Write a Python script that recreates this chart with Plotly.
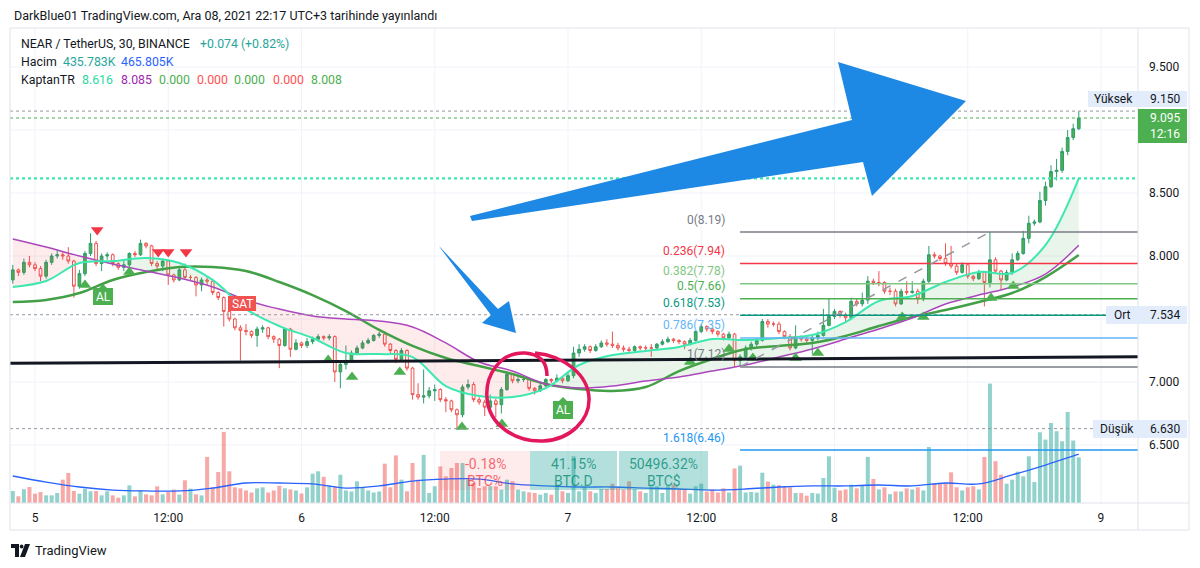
import plotly.graph_objects as go
from datetime import datetime, timedelta

# ---------------- data ----------------
T0 = datetime(2021, 12, 5)      # day "5" 00:00, 30-minute candles
K_FIRST = -4                     # first visible candle index
FIRST_OPEN = 7.81

close = [7.89, 7.87, 7.95, 7.93, 7.90, 7.84, 7.95, 8.00, 8.01, 8.00,
         7.96, 7.76, 7.86, 8.02, 8.10, 7.94, 8.00, 8.01, 7.94, 7.91,
         7.93, 8.02, 8.01, 8.10, 8.08, 7.94, 7.92, 7.96, 7.85, 7.81,
         7.89, 7.83, 7.83, 7.77, 7.81, 7.80, 7.71, 7.67, 7.56, 7.50,
         7.43, 7.41, 7.40, 7.37, 7.42, 7.43, 7.36, 7.34, 7.29, 7.42,
         7.26, 7.31, 7.29, 7.32, 7.34, 7.36, 7.35, 7.36, 7.08, 7.14,
         7.17, 7.23, 7.27, 7.31, 7.33, 7.37, 7.38, 7.30, 7.25, 7.18,
         7.25, 7.11, 6.90, 6.88, 6.89, 6.93, 6.94, 6.86, 6.85, 6.78,
         6.74, 6.96, 6.98, 6.86, 6.84, 6.80, 6.85, 6.82, 6.94, 7.06,
         7.01, 7.02, 7.02, 6.95, 6.93, 6.97, 7.02, 7.01, 7.03, 7.01,
         7.05, 7.23, 7.26, 7.28, 7.25, 7.28, 7.31, 7.30, 7.29, 7.27,
         7.26, 7.25, 7.28, 7.27, 7.27, 7.27, 7.30, 7.32, 7.34, 7.33,
         7.32, 7.30, 7.33, 7.40, 7.44, 7.42, 7.40, 7.38, 7.35, 7.38,
         7.17, 7.20, 7.27, 7.30, 7.33, 7.48, 7.46, 7.46, 7.40, 7.36,
         7.27, 7.36, 7.34, 7.33, 7.35, 7.37, 7.45, 7.52, 7.56, 7.53,
         7.51, 7.64, 7.62, 7.65, 7.80, 7.79, 7.79, 7.72, 7.72, 7.62,
         7.72, 7.71, 7.72, 7.66, 7.80, 8.01, 8.00, 7.98, 7.94, 7.92,
         7.87, 7.93, 7.84, 7.82, 7.87, 7.79, 7.97, 7.88, 7.81, 7.87,
         7.97, 8.02, 8.14, 8.26, 8.27, 8.44, 8.55, 8.67, 8.68, 8.83,
         8.94, 9.01, 9.095]

high = [7.93, 7.90, 7.98, 8.00, 7.95, 7.92, 7.97, 8.02, 8.05, 8.03,
        8.07, 7.97, 7.89, 8.04, 8.18, 8.12, 8.02, 8.03, 8.02, 7.95,
        7.96, 8.03, 8.04, 8.13, 8.11, 8.09, 7.96, 7.98, 7.97, 7.86,
        7.91, 7.94, 7.85, 7.84, 7.83, 7.83, 7.81, 7.72, 7.68, 7.57,
        7.51, 7.45, 7.46, 7.41, 7.44, 7.45, 7.44, 7.37, 7.35, 7.43,
        7.43, 7.34, 7.32, 7.35, 7.36, 7.38, 7.37, 7.38, 7.37, 7.16,
        7.29, 7.25, 7.29, 7.33, 7.35, 7.38, 7.40, 7.40, 7.31, 7.26,
        7.27, 7.26, 7.12, 6.99, 7.10, 6.96, 6.98, 6.95, 6.88, 6.86,
        6.79, 6.98, 7.02, 7.00, 6.88, 6.86, 6.90, 6.87, 6.96, 7.08,
        7.07, 7.04, 7.05, 7.03, 6.96, 6.99, 7.03, 7.03, 7.06, 7.04,
        7.07, 7.28, 7.30, 7.30, 7.29, 7.30, 7.33, 7.34, 7.40, 7.31,
        7.29, 7.28, 7.29, 7.29, 7.29, 7.30, 7.31, 7.34, 7.36, 7.35,
        7.34, 7.33, 7.35, 7.41, 7.46, 7.45, 7.43, 7.41, 7.39, 7.40,
        7.39, 7.22, 7.29, 7.32, 7.35, 7.50, 7.50, 7.48, 7.48, 7.41,
        7.38, 7.45, 7.37, 7.36, 7.37, 7.40, 7.58, 7.66, 7.58, 7.57,
        7.55, 7.67, 7.66, 7.71, 7.84, 7.82, 7.88, 7.80, 7.75, 7.74,
        7.74, 7.80, 7.80, 7.74, 7.82, 8.08, 8.03, 8.01, 8.10, 8.08,
        7.94, 7.95, 7.94, 7.85, 7.89, 7.88, 8.19, 7.99, 7.89, 7.89,
        8.02, 8.04, 8.20, 8.32, 8.29, 8.51, 8.59, 8.72, 8.77, 8.86,
        9.00, 9.05, 9.15]

low = [7.78, 7.84, 7.85, 7.91, 7.88, 7.80, 7.82, 7.93, 7.98, 7.97,
       7.94, 7.67, 7.74, 7.84, 8.00, 7.92, 7.88, 7.97, 7.92, 7.89,
       7.88, 7.91, 7.99, 8.00, 8.06, 7.92, 7.89, 7.88, 7.77, 7.79,
       7.80, 7.81, 7.81, 7.68, 7.72, 7.77, 7.69, 7.65, 7.44, 7.48,
       7.41, 7.17, 7.37, 7.35, 7.28, 7.39, 7.34, 7.31, 7.11, 7.28,
       7.20, 7.25, 7.27, 7.27, 7.30, 7.33, 7.33, 7.33, 7.00, 6.95,
       7.10, 7.16, 7.22, 7.26, 7.30, 7.32, 7.35, 7.28, 7.23, 7.15,
       7.16, 7.09, 6.86, 6.86, 6.83, 6.87, 6.85, 6.84, 6.76, 6.76,
       6.63, 6.72, 6.94, 6.84, 6.82, 6.73, 6.78, 6.72, 6.75, 6.93,
       6.99, 6.99, 7.00, 6.93, 6.90, 6.92, 6.96, 6.99, 7.00, 6.99,
       7.00, 7.03, 7.20, 7.24, 7.23, 7.24, 7.27, 7.28, 7.27, 7.25,
       7.24, 7.23, 7.24, 7.25, 7.25, 7.20, 7.26, 7.29, 7.31, 7.31,
       7.30, 7.26, 7.29, 7.32, 7.39, 7.40, 7.38, 7.36, 7.33, 7.34,
       7.12, 7.12, 7.18, 7.25, 7.28, 7.32, 7.43, 7.44, 7.38, 7.34,
       7.25, 7.26, 7.32, 7.31, 7.22, 7.33, 7.36, 7.44, 7.50, 7.51,
       7.48, 7.50, 7.60, 7.60, 7.62, 7.77, 7.76, 7.70, 7.69, 7.60,
       7.61, 7.69, 7.70, 7.62, 7.64, 7.78, 7.98, 7.96, 7.92, 7.90,
       7.85, 7.86, 7.82, 7.80, 7.81, 7.60, 7.75, 7.86, 7.73, 7.80,
       7.85, 7.96, 8.01, 8.10, 8.24, 8.26, 8.40, 8.54, 8.60, 8.66,
       8.80, 8.92, 9.00]

volume_k = [115, 64, 131, 153, 89, 105, 73, 73, 96, 223,
            287, 115, 89, 137, 112, 115, 73, 112, 73, 51,
            73, 169, 64, 121, 83, 73, 159, 83, 105, 128,
            80, 217, 137, 83, 73, 440, 153, 296, 680, 303,
            150, 140, 120, 100, 140, 150, 100, 120, 165, 140,
            130, 120, 90, 150, 280, 303, 250, 170, 160, 270,
            120, 110, 207, 150, 120, 100, 110, 376, 150, 455,
            223, 112, 382, 223, 460, 96, 160, 350, 255, 335,
            382, 382, 223, 191, 143, 160, 160, 160, 128, 223,
            207, 128, 112, 102, 96, 80, 96, 80, 160, 112,
            96, 446, 112, 160, 112, 96, 134, 134, 185, 143,
            128, 207, 134, 112, 96, 160, 160, 96, 160, 175,
            128, 128, 90, 160, 185, 110, 130, 100, 140, 100,
            330, 357, 100, 105, 100, 290, 205, 175, 170, 160,
            150, 95, 95, 70, 95, 90, 240, 446, 146, 120,
            130, 175, 140, 170, 440, 230, 130, 150, 85, 110,
            110, 140, 130, 150, 120, 535, 190, 190, 190, 293,
            150, 120, 150, 160, 130, 440, 1141, 400, 270, 185,
            223, 300, 255, 446, 200, 676, 606, 765, 686, 590,
            870, 597, 436]

# indicator lines, read every 6 candles starting at the first candle
LINE_STEP = 6
cyan_line = [7.754, 7.802, 7.944, 7.960, 7.984, 7.944, 7.810, 7.579, 7.444, 7.349,
             7.230, 7.222, 7.198, 6.968, 6.889, 6.881, 6.952, 7.135, 7.214, 7.246,
             7.278, 7.341, 7.333, 7.349, 7.373, 7.476, 7.643, 7.683, 7.794, 7.873,
             7.865, 8.087, 8.616]
purple_line = [8.135, 8.071, 8.000, 7.937, 7.881, 7.825, 7.754, 7.651, 7.579, 7.524,
               7.500, 7.484, 7.437, 7.310, 7.159, 7.087, 6.984, 6.952, 6.968, 7.008,
               7.040, 7.087, 7.135, 7.198, 7.262, 7.341, 7.421, 7.508, 7.619, 7.690,
               7.754, 7.857, 8.085]
green_line = [7.635, 7.651, 7.706, 7.810, 7.873, 7.913, 7.913, 7.881, 7.794, 7.690,
              7.563, 7.413, 7.286, 7.190, 7.127, 7.063, 6.984, 6.944, 6.929, 6.960,
              7.087, 7.183, 7.262, 7.286, 7.310, 7.365, 7.444, 7.516, 7.571, 7.635,
              7.706, 7.833, 8.008]
vol_ma_k = [258, 200, 153, 124, 115, 115, 143, 191, 191, 182,
            143, 163, 210, 229, 229, 182, 163, 153, 153, 143,
            134, 124, 134, 153, 163, 163, 172, 163, 191, 182,
            268, 363, 466]

buy_k = [9, 17, 52.8, 57.1, 65.7, 76.9, 84.1, 118, 125, 129.3, 137, 141, 156.2, 160, 172.2, 176.2]
buy_p = [7.770, 7.873, 7.175, 7.040, 7.079, 6.643, 6.667, 7.159, 7.262, 7.190, 7.190, 7.230,
         7.516, 7.516, 7.667, 7.762]
sell_k = [11.2, 22.2, 24, 27.2]
sell_p = [8.206, 8.032, 8.032, 8.032]

fib_names = ["0", "0.236", "0.382", "0.5", "0.618", "0.786", "1", "1.618"]
fib_prices = [8.19, 7.94, 7.78, 7.66, 7.53, 7.35, 7.12, 6.46]
fib_colors = ["#787b86", "#f23645", "#81c784", "#4caf50", "#089981", "#64b5f6", "#787b86", "#2196f3"]
FIB_START_K = 127
FIB_END_K = 172

price_ticks = [6.5, 7.0, 7.5, 8.0, 8.5, 9.0, 9.5]
price_tick_text = ["6.500", "7.000", "", "8.000", "8.500", "", "9.500"]
time_tick_k = [0, 24, 48, 72, 96, 120, 144, 168, 192]
time_tick_text = ["5", "12:00", "6", "12:00", "7", "12:00", "8", "12:00", "9"]

HIGH_P, LAST_P, AVG_P, LOW_P, CYAN_LAST = 9.150, 9.095, 7.534, 6.630, 8.616
LINE_A_P, LINE_B_P = 7.148, 7.201

# ---------------- geometry helpers ----------------
PX0, PX1, PY0, PY1 = 10, 1138, 28, 503
PX_PER_K = 5.552
K_AT_PX0 = (PX0 - 35) / PX_PER_K
K_AT_PX1 = (PX1 - 35) / PX_PER_K
P_TOP = 8 - (PY0 - 256) / 126
P_BOT = 8 - (PY1 - 256) / 126
VOL_TOP = (PY1 - PY0) * 9.557

def t(k):
    return T0 + timedelta(minutes=30 * k)

def xp(x):
    return (x - PX0) / (PX1 - PX0)

def yp(y):
    return (PY1 - y) / (PY1 - PY0)

def ppaper(p):
    return (p - P_BOT) / (P_TOP - P_BOT)

def path(cmds):
    out = []
    for c, pts in cmds:
        if c in ("M", "L"):
            for x, y in pts:
                out.append(f"{c} {xp(x):.5f},{yp(y):.5f}")
        elif c == "Z":
            out.append("Z")
        else:
            out.append(c + " " + " ".join(f"{xp(x):.5f},{yp(y):.5f}" for x, y in pts))
    return " ".join(out)

FONT = "Roboto"
TXT = "#131722"

n = len(close)
times = [t(K_FIRST + i) for i in range(n)]
opens = [FIRST_OPEN] + close[:-1]
line_times = [t(K_FIRST + LINE_STEP * i) for i in range(len(cyan_line))]

fig = go.Figure()

# volume (base axis)
vol_colors = ["rgba(38,166,154,0.5)" if c >= o else "rgba(239,83,80,0.5)" for o, c in zip(opens, close)]
fig.add_bar(x=times, y=volume_k, marker=dict(color=vol_colors, line=dict(width=0)),
            width=30 * 60 * 1000 * 0.72, xaxis="x", yaxis="y", hoverinfo="skip")
fig.add_scatter(x=line_times, y=vol_ma_k, mode="lines", line=dict(color="#2962ff", width=1.3, shape="spline"),
                xaxis="x", yaxis="y", hoverinfo="skip")

# fills between fast (cyan) and purple line, split at crossings
fx, fc, fp = [], [], []
for i in range(len(cyan_line)):
    if i > 0:
        d0 = cyan_line[i - 1] - purple_line[i - 1]
        d1 = cyan_line[i] - purple_line[i]
        if d0 * d1 < 0:
            f = d0 / (d0 - d1)
            tc = line_times[i - 1] + (line_times[i] - line_times[i - 1]) * f
            pc = purple_line[i - 1] + (purple_line[i] - purple_line[i - 1]) * f
            fx.append(tc); fc.append(pc); fp.append(pc)
    fx.append(line_times[i]); fc.append(cyan_line[i]); fp.append(purple_line[i])
lower_pink = [min(a, b) for a, b in zip(fc, fp)]
upper_green = [max(a, b) for a, b in zip(fc, fp)]
fig.add_scatter(x=fx, y=fp, mode="lines", line=dict(width=0, shape="spline"), yaxis="y2", hoverinfo="skip")
fig.add_scatter(x=fx, y=lower_pink, mode="lines", line=dict(width=0, shape="spline"), fill="tonexty",
                fillcolor="rgba(242,54,69,0.10)", yaxis="y2", hoverinfo="skip")
fig.add_scatter(x=fx, y=fp, mode="lines", line=dict(width=0, shape="spline"), yaxis="y2", hoverinfo="skip")
fig.add_scatter(x=fx, y=upper_green, mode="lines", line=dict(width=0, shape="spline"), fill="tonexty",
                fillcolor="rgba(76,175,80,0.12)", yaxis="y2", hoverinfo="skip")

fig.add_scatter(x=line_times, y=green_line, mode="lines", line=dict(color="#43a047", width=2.5, shape="spline"),
                yaxis="y2", hoverinfo="skip")
fig.add_scatter(x=line_times, y=purple_line, mode="lines", line=dict(color="#ab47bc", width=1.5, shape="spline"),
                yaxis="y2", hoverinfo="skip")
fig.add_scatter(x=line_times, y=cyan_line, mode="lines", line=dict(color="#3de8b0", width=2, shape="spline"),
                yaxis="y2", hoverinfo="skip")

fig.add_candlestick(x=times, open=opens, high=high, low=low, close=close, yaxis="y2",
                    increasing=dict(line=dict(color="#2e9d6e", width=1), fillcolor="#4caf50"),
                    decreasing=dict(line=dict(color="#ef5350", width=1), fillcolor="#ffffff"),
                    whiskerwidth=0, hoverinfo="skip")

fig.add_scatter(x=[t(k) for k in buy_k], y=buy_p, mode="markers", yaxis="y2", hoverinfo="skip",
                marker=dict(symbol="triangle-up", size=11, color="#4caf50", line=dict(width=0)))
fig.add_scatter(x=[t(k) for k in sell_k], y=sell_p, mode="markers", yaxis="y2", hoverinfo="skip",
                marker=dict(symbol="triangle-down", size=11, color="#f23645", line=dict(width=0)))

shapes = []
ann = []

# grid (below everything)
for p in price_ticks:
    shapes.append(dict(type="line", xref="paper", yref="paper", x0=0, x1=1, y0=ppaper(p), y1=ppaper(p),
                       line=dict(color="#f0f3fa", width=1), layer="below"))
for k in time_tick_k:
    x = 35 + PX_PER_K * k
    shapes.append(dict(type="line", xref="paper", yref="paper", x0=xp(x), x1=xp(x), y0=0, y1=1,
                       line=dict(color="#f0f3fa", width=1), layer="below"))

# horizontal reference lines
def hline(p, color, dash, width, x0=0, x1=1):
    shapes.append(dict(type="line", xref="paper", yref="y2", x0=x0, x1=x1, y0=p, y1=p,
                       line=dict(color=color, dash=dash, width=width)))

hline(HIGH_P, "#9598a1", "dot", 1)
hline(LAST_P, "#4caf50", "dot", 1)
hline(CYAN_LAST, "#3de8b0", "dot", 2.2)
hline(AVG_P, "#9598a1", "dot", 1, 0, xp(1106))
hline(LOW_P, "#9598a1", "dot", 1, 0, xp(1093))
shapes.append(dict(type="line", xref="paper", yref="y2", x0=0, x1=1, y0=LINE_A_P, y1=LINE_B_P,
                   line=dict(color="#131722", width=3)))

# fibonacci
for name, p, col in zip(fib_names, fib_prices, fib_colors):
    shapes.append(dict(type="line", xref="x", yref="y2", x0=t(FIB_START_K), x1=t(K_AT_PX1), y0=p, y1=p,
                       line=dict(color=col, width=1.5)))
    ann.append(dict(xref="paper", yref="y2", x=xp(727), y=p, yshift=12.5, xanchor="right", yanchor="middle",
                    text=f"{name}({p:.2f})", showarrow=False, font=dict(family=FONT, size=12, color=col)))
shapes.append(dict(type="line", xref="x", yref="y2", x0=t(FIB_START_K), x1=t(FIB_END_K),
                   y0=fib_prices[6], y1=fib_prices[0], line=dict(color="#9598a1", width=1.5, dash="dash")))

# BTC info boxes
boxes = [(440, 530, "rgba(242,54,69,0.10)", "-0.18%", "BTC%", "rgba(242,54,69,0.75)"),
         (530, 617, "rgba(38,166,154,0.35)", "41.15%", "BTC.D", "rgba(8,140,120,0.8)"),
         (619, 708, "rgba(38,166,154,0.35)", "50496.32%", "BTC$", "rgba(8,140,120,0.8)")]
for x0, x1, fc_, t1, t2, tc_ in boxes:
    shapes.append(dict(type="rect", xref="paper", yref="paper", x0=xp(x0), x1=xp(x1), y0=yp(490), y1=yp(451),
                       fillcolor=fc_, line=dict(width=0)))
    ann.append(dict(xref="paper", yref="paper", x=xp((x0 + x1) / 2), y=yp(464), text=t1, showarrow=False,
                    font=dict(family=FONT, size=14, color=tc_)))
    ann.append(dict(xref="paper", yref="paper", x=xp((x0 + x1) / 2), y=yp(481), text=t2, showarrow=False,
                    font=dict(family=FONT, size=14, color=tc_)))

# arrows (drawings)
shapes.append(dict(type="path", xref="paper", yref="paper", fillcolor="#1e88e5", line=dict(width=0),
                   path=path([("M", [(470, 216)]), ("L", [(852, 120), (838, 62), (966, 101), (872, 196),
                                                           (863, 162), (472, 221)]), ("Z", [])])))
shapes.append(dict(type="path", xref="paper", yref="paper", fillcolor="#1e88e5", line=dict(width=0),
                   path=path([("M", [(439, 246)]), ("L", [(498, 309), (509, 301), (516, 333), (482, 323),
                                                           (491, 315), (441, 249)]), ("Z", [])])))
# hand drawn circle
shapes.append(dict(type="path", xref="paper", yref="paper", line=dict(color="#e3175c", width=3.5),
                   path=path([("M", [(547, 376)]), ("C", [(547, 362), (540, 354), (525, 353)]),
                              ("C", [(500, 352), (485, 375), (487, 398)]),
                              ("C", [(489, 425), (515, 442), (543, 441)]),
                              ("C", [(570, 440), (590, 420), (589, 398)]),
                              ("C", [(588, 375), (565, 356), (535, 353)])])))

# AL / SAT labels
for (x0, x1, y0, y1, col, txt) in [(93, 113, 288, 305, "#4caf50", "AL"), (553, 573, 401, 419, "#4caf50", "AL"),
                                   (228, 256, 296, 311, "#f05350", "SAT")]:
    shapes.append(dict(type="rect", xref="paper", yref="paper", x0=xp(x0), x1=xp(x1), y0=yp(y1), y1=yp(y0),
                       fillcolor=col, line=dict(width=0)))
    ann.append(dict(xref="paper", yref="paper", x=xp((x0 + x1) / 2), y=yp((y0 + y1) / 2), text=txt,
                    showarrow=False, font=dict(family=FONT, size=12, color="white")))
for cx, cy in [(103, 288), (563, 401)]:
    shapes.append(dict(type="path", xref="paper", yref="paper", fillcolor="#4caf50", line=dict(width=0),
                       path=path([("M", [(cx - 4, cy)]), ("L", [(cx, cy - 4), (cx + 4, cy)]), ("Z", [])])))

# frame
frame_col = "#e0e3eb"
shapes.append(dict(type="rect", xref="paper", yref="paper", x0=0, x1=xp(1189), y0=yp(530), y1=1,
                   line=dict(color=frame_col, width=1)))
shapes.append(dict(type="line", xref="paper", yref="paper", x0=1, x1=1, y0=yp(530), y1=1,
                   line=dict(color=frame_col, width=1)))
shapes.append(dict(type="line", xref="paper", yref="paper", x0=0, x1=xp(1189), y0=0, y1=0,
                   line=dict(color=frame_col, width=1)))

# price scale labels
def price_label(y0, y1, left, bg, parts):
    shapes.append(dict(type="rect", xref="paper", yref="paper", x0=xp(left), x1=xp(1187), y0=yp(y1), y1=yp(y0),
                       fillcolor=bg, line=dict(width=0)))
    for x, txt, col, y in parts:
        ann.append(dict(xref="paper", yref="paper", x=xp(x), y=yp(y), xanchor="left", text=txt,
                        showarrow=False, font=dict(family=FONT, size=12, color=col)))

price_label(91, 107, 1088, "#e3ecfa", [(1092, "Yüksek", TXT, 99), (1148, "9.150", TXT, 99)])
price_label(109, 143, 1138, "#4caf50", [(1148, "9.095", "white", 118), (1148, "12:16", "white", 134)])
price_label(306, 324, 1106, "#e3ecfa", [(1112, "Ort", TXT, 315), (1148, "7.534", TXT, 315)])
price_label(420, 438, 1093, "#e3ecfa", [(1098, "Düşük", TXT, 429), (1148, "6.630", TXT, 429)])

# header texts
ann.append(dict(xref="paper", yref="paper", x=xp(12), y=yp(15), xanchor="left", showarrow=False,
                text="DarkBlue01 TradingView.com, Ara 08, 2021 22:17 UTC+3 tarihinde yayınlandı",
                font=dict(family=FONT, size=12.5, color=TXT)))
legend_items = [
    (19, 44, "NEAR / TetherUS, 30, BINANCE", TXT), (198, 44, "+0.074 (+0.82%)", "#26a69a"),
    (19, 62, "Hacim", TXT), (61, 62, "435.783K", "#26a69a"), (119, 62, "465.805K", "#2962ff"),
    (19, 80, "KaptanTR", TXT), (80, 80, "8.616", "#2bd9a0"), (119, 80, "8.085", "#9c27b0"),
    (157, 80, "0.000", "#4caf50"), (195, 80, "0.000", "#ff5252"), (232, 80, "0.000", "#4caf50"),
    (271, 80, "0.000", "#ff5252"), (309, 80, "8.008", "#4caf50"),
]
for x, y, txt, col in legend_items:
    ann.append(dict(xref="paper", yref="paper", x=xp(x), y=yp(y), xanchor="left", showarrow=False, text=txt,
                    font=dict(family=FONT, size=12.3, color=col)))

# TradingView footer logo + text
shapes.append(dict(type="path", xref="paper", yref="paper", fillcolor=TXT, line=dict(width=0),
                   path=path([("M", [(11, 544)]), ("L", [(19, 544), (19, 557), (15, 557), (15, 548), (11, 548)]),
                              ("Z", [])])))
shapes.append(dict(type="circle", xref="paper", yref="paper", fillcolor=TXT, line=dict(width=0),
                   x0=xp(19.8), x1=xp(23.4), y0=yp(548.4), y1=yp(544.6)))
shapes.append(dict(type="path", xref="paper", yref="paper", fillcolor=TXT, line=dict(width=0),
                   path=path([("M", [(25, 544)]), ("L", [(30, 544), (25, 557), (20, 557)]), ("Z", [])])))
ann.append(dict(xref="paper", yref="paper", x=xp(33), y=yp(550), xanchor="left", showarrow=False,
                text="TradingView", font=dict(family=FONT, size=13, color=TXT)))

for a in ann:
    a.setdefault("xanchor", "center")
    a.setdefault("yanchor", "middle")

fig.update_layout(
    width=1200, height=568, margin=dict(l=PX0, r=1200 - PX1, t=PY0, b=568 - PY1),
    paper_bgcolor="white", plot_bgcolor="white", showlegend=False, hovermode=False,
    xaxis=dict(type="date", range=[t(K_AT_PX0), t(K_AT_PX1)], showgrid=False, zeroline=False,
               tickvals=[t(k) for k in time_tick_k], ticktext=time_tick_text, ticks="",
               tickfont=dict(family=FONT, size=12, color=TXT), rangeslider=dict(visible=False),
               ticklabelstandoff=6),
    yaxis=dict(range=[0, VOL_TOP], visible=False, fixedrange=True),
    yaxis2=dict(overlaying="y", side="right", range=[P_BOT, P_TOP], showgrid=False, zeroline=False,
                tickvals=price_ticks, ticktext=price_tick_text, ticks="",
                tickfont=dict(family=FONT, size=12, color=TXT), ticklabelstandoff=10),
    shapes=shapes, annotations=ann,
)

fig.write_html("out.html")
